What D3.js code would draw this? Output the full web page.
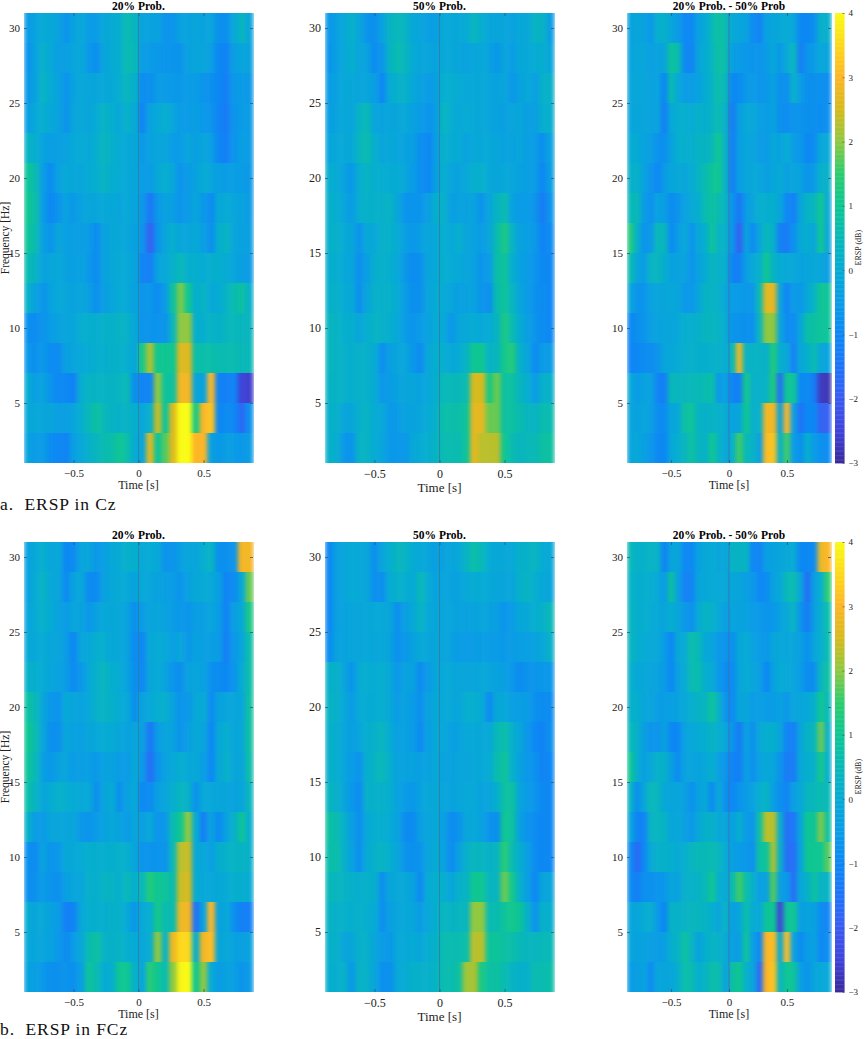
<!DOCTYPE html>
<html>
<head>
<meta charset="utf-8">
<script src="https://cdn.jsdelivr.net/npm/d3@7"></script>
<style>
  body { margin: 0; background: #fff; }
  text { font-family: "Liberation Serif", serif; fill: #222; }
  .domain { display: none; }
</style>
</head>
<body>
<script>
// one row per 2 Hz band, top row is 29-31 Hz, bottom row is 1-3 Hz
let freqLow = [29, 27, 25, 23, 21, 19, 17, 15, 13, 11, 9, 7, 5, 3, 1]
let timeStart = -0.88
let timeStep = 0.0587

let cz20 = [
  [-.5,-.3,0,-.1,-.3,-.7,-.3,-.1,-.5,-.5,-.1,0,.1,.6,.4,-.3,-.3,-.3,-.7,-.7,-.3,-.3,-.2,-.3,-.2,-.8,-.8,-.1,.4,-.2],
  [-.7,-.3,.2,-.1,-.4,-.4,-.2,-.1,-.6,-.8,-.2,0,.1,.6,.5,-.5,-.5,-.6,-.7,-.7,-.7,-.3,-.2,-.2,-.4,-1,-1.1,-.4,-.2,-.3],
  [-.6,-.3,.3,0,-.3,-.7,-.3,-.1,-.2,-.2,-.1,-.1,.1,.4,.2,-.9,-.8,-.5,-.5,-.6,-.6,-.5,-.5,-.7,-.8,-1,-1.2,-.6,-.5,-.6],
  [-.4,-.1,.1,-.1,-.3,-.7,-.2,-.1,-.2,0,.3,.1,-.1,.2,0,-1.1,-.3,-.1,.1,-.2,-.5,-.5,-.4,-.6,-.7,-1.1,-1.3,-.7,-.5,-.5],
  [.3,.1,-.3,-.4,-.4,-.3,-.1,0,-.1,.1,.4,.2,0,-.1,-.1,-.6,-.3,-.2,-.2,-.5,-.5,-.2,-.4,-.2,-.4,-1,-1.2,-.7,-.4,-.5],
  [.9,.6,-.5,-.9,-.3,-.1,-.1,-.2,0,.1,.3,.1,0,-.1,-.2,-.5,-.5,-.1,.1,-.2,-.7,-.5,-.3,0,-.2,-.4,-.5,-.4,-.5,-.6],
  [1,.7,-.5,-1,-.7,-.3,-.6,-.3,-.2,-.2,-.1,-.1,-.2,-.1,-.2,-.6,-1.4,-.6,-.3,-.4,-.7,-.5,-.2,-.6,-.9,-.1,0,-.2,-.3,-.5],
  [.9,.6,-.4,-.7,-.2,-.4,-.4,-.4,-.5,-.9,-.3,-.1,-.1,-.2,-.3,-.7,-1.9,-.7,-.2,.1,-.2,-.2,-.1,-.4,-.8,.1,.3,-.2,-.3,-.4],
  [.6,.3,-.3,-.2,-.1,-.3,-.4,-.3,-.6,-.9,-.3,-.1,0,-.1,-.2,-1.1,-1.2,-.3,-.1,.2,.5,.1,.1,0,.1,.1,0,-.2,-.4,-.5],
  [.2,-.3,-.7,-.3,-.1,-.2,-.3,-.2,-.4,-.8,-.4,-.2,0,-.1,-.3,-.7,-.6,-.9,-.5,.8,1.9,1,.1,.3,-.1,0,.3,.6,.8,.2],
  [-.8,-.9,-.7,-.5,-.3,-.2,-.2,.1,.1,.1,.2,.2,.3,.2,-.1,-.7,-.7,-.7,-.7,.4,2,2,.1,.1,.3,.2,.4,.5,.4,.4],
  [-.6,-.8,-.6,-.9,-.9,-.4,-.2,-.1,0,.1,.1,.2,.2,.1,-.2,1.2,2.2,1,1,1,2.6,2.6,.7,.7,.7,.6,.6,.6,.5,.5],
  [0,-.4,-.3,-.7,-1,-1,-1.1,.1,.3,.3,.3,.3,.4,.5,-.8,-1.1,-1.1,2,.9,.8,2.9,2.9,-.2,-.3,3,-1.1,-1.2,-1.1,-2.5,-2.6],
  [-.1,-.1,-.2,-.2,-.4,-.4,-.2,.1,.5,.8,.5,.3,.2,.3,.1,-.2,.2,2.4,.9,2.6,4,4,1.2,3,3.2,-1,-.9,-1,-1.7,-.8],
  [-.3,-.5,-.5,-.9,-1,-1.1,-.4,-.1,.2,.4,.6,.7,1,.7,0,-.2,2.6,.9,1.7,2.6,4,4,3,3,-.3,-.6,-.4,-.5,-.6,-.5]
]

let cz50 = [
  [-.6,-.4,-.1,.2,-.2,-.7,-.8,-.3,.3,.5,.3,-.1,-.2,-.4,-.4,-.1,-.1,-.1,0,.4,.1,-.2,-.2,-.2,-.3,-.1,-.1,.3,.3,-.5],
  [-.7,-.4,-.1,.1,-.2,-.3,-.9,-.6,.3,.6,.4,0,-.2,-.2,-.3,-.1,-.1,-.2,-.3,-.2,-.1,-.3,-.6,-.2,-.5,-.1,-.1,0,.1,-.2],
  [-.5,-.3,-.1,-.1,-.2,-.2,-.4,-1,0,.2,.2,-.1,-.3,-.5,-.4,.1,.1,0,-.1,-.1,-.1,-.2,-.3,-.2,-.6,-.3,-.1,-.4,.2,.2],
  [-.4,-.3,-.1,-.2,.3,.5,-.2,-.3,-.2,-.2,-.1,-.3,-.5,-.7,-.5,.4,.1,-.1,0,-.1,-.1,-.2,-.3,-.4,-.2,-.2,-.4,-.4,.1,.1],
  [-.2,-.1,-.1,-.1,.4,.6,.1,-.2,-.1,-.2,-.3,-.4,-.8,-1,-.5,.2,0,0,-.3,-.1,-.1,-.1,-.2,-.3,-.3,-.2,-.4,-.5,-.8,-.3],
  [.1,0,-.3,-.6,.1,.3,.1,.1,0,0,-.2,-.5,-.8,-1,-.4,.1,-.2,-.3,-.1,.1,.2,-.1,-.2,-.1,-.2,-.3,-.4,-.5,-1,-.4],
  [.2,.1,-.2,-.5,.1,.2,.2,.2,.3,-.2,-.7,-.7,-.7,-.4,.1,.2,-.4,-.3,-.3,-.3,-.7,-.2,.3,.6,-.3,-.5,-.5,-.7,-1.3,-.7],
  [.2,.2,0,-.2,-.7,-.1,-.1,.2,.2,0,-.4,-.6,-.4,-.2,-.1,.1,-.1,.1,-.2,-.3,-.5,-.2,.6,1.2,.3,-.3,-.4,-.6,-1.1,-.9],
  [.1,.1,-.1,-.2,-.8,-.4,.1,.2,.1,-.1,-.6,-.9,-.8,-.2,-.1,.1,0,-.1,-.2,-.3,-.7,-.5,.7,.9,.1,-.3,-.5,-.7,-1,-1],
  [.2,.2,0,-.1,-.8,-.2,.2,.2,.2,0,-.5,-.8,-.8,-.2,0,0,-.2,-.4,-.3,-.3,-.7,-.8,.6,.9,.4,-.2,-.5,-.8,-.9,-1],
  [.4,.3,.1,.1,-.2,.1,.3,.2,.1,-.1,-.5,-.7,-.5,-.3,0,-.1,-.6,-.2,-.1,0,-.1,0,.3,1.2,.6,0,-.4,-.7,-.9,-1],
  [.4,.3,.2,.1,.2,.2,0,-.8,-.4,-.2,-.2,-.6,-.9,-.1,.1,.1,-.1,0,.3,1,1,.3,.4,1.1,1.3,.2,-.2,-.9,-.5,-.5],
  [.3,.3,.2,.1,.2,.2,0,-.6,-.5,-.3,-.2,-.2,-.3,-.1,.1,.5,.5,.5,.6,2.5,2.5,1.2,1.8,.8,.8,.4,.1,-.5,.2,.2],
  [.2,.2,-.2,-.2,.2,.3,0,-.1,-.6,-.5,-.3,-.3,-.2,0,.2,.7,.7,.7,.9,2.7,2.7,1.8,1.8,.8,.8,.6,.4,.3,.6,.6],
  [.2,.1,-.6,-.7,.3,.3,0,-.2,-.6,-.6,-.6,-.1,0,.1,.3,.6,.6,.6,.9,2.7,2.3,2.3,2.3,1,.6,.4,.5,.5,.8,.8]
]

let czDiff = [
  [-.3,-.2,-.3,-.6,.1,.2,-.2,-.5,-1,-1,-.3,-.1,.5,.8,.6,-.1,-.2,-.3,-.9,-1.1,-.3,-.2,-.1,0,-.2,-1,-1,-.8,.2,.1],
  [-.3,-.1,-.2,-.4,-.3,-.2,.9,.6,-1,-1.1,-.2,0,.4,.8,.6,-.4,-.5,-.6,-.7,-.7,-.5,-.1,-.6,0,.4,-1.2,-.7,-.5,-.1,-.3],
  [-.2,-.1,-.2,-.3,-.3,-1,.6,-.1,-.5,-.5,-.3,0,.3,.7,.4,-1,-.9,-.6,-.5,-.7,-.6,-.3,-.8,-.8,.2,-.5,-.8,-.8,-.8,-.9],
  [-.2,-.2,-.2,-.3,-.3,-1.2,-.1,.1,.1,0,.2,.1,.3,.6,.2,-1.3,-.4,-.1,-.1,-.4,-.5,-.3,-.8,-.9,-.7,-.7,-.8,-.8,-.9,-.8],
  [0,0,-.3,-.4,-.8,-.8,-.3,.1,.1,.1,.3,.3,.5,1,.2,-1.2,-.4,-.2,-.2,-.5,-.5,-.1,-.3,0,-.5,-.6,-1,-.9,-.1,-.1],
  [.2,.2,-.3,-.7,-1,-.5,-.2,-.1,-.2,0,.3,.6,.9,1,.2,-1.2,-.4,-.2,-.1,-.2,-.4,-.2,0,-.4,-.2,-.3,-.7,-.5,.2,.2],
  [.5,.5,-.5,-.8,-.3,-.4,-.9,-.7,-.3,-.1,.1,.6,.8,.6,.3,-.7,-1.4,-.5,-.2,.1,.1,.1,-.2,-1,-1.2,-.2,.3,.4,1,-.1],
  [1.3,.2,-.7,-.6,.5,.4,-.9,-.5,-.1,-.7,-.1,.1,.9,.3,.2,-.7,-1.9,-.3,-.9,-.2,.5,.2,-1.2,-1.3,-.8,-.1,.1,-.2,1,-.2],
  [.6,-.2,-.5,.3,.4,.1,-.3,-.3,-.3,-.7,-.3,0,.4,.2,.1,-1.1,-1.2,-.4,-.1,.2,1,.3,0,-.1,-.1,-.3,-.2,-.1,-.2,-.4],
  [-.2,-.7,-.7,-.3,-.2,-.2,-.1,-.2,-.6,-.6,-.2,.3,.3,.2,-.2,-.5,-.5,-.6,-.6,.6,2.7,2.7,-.2,-1.1,-.5,-.6,-.1,.3,1,.9],
  [-1,-.8,-.7,-.4,-.3,-.2,-.2,-.1,.1,.1,.2,.4,.4,.3,0,-.7,-.7,-.8,-.8,.4,2,2,-.2,-.9,-.9,-.2,.7,.8,.9,.9],
  [-1.1,-1,-.9,-.9,-.7,-.2,-.1,0,.1,.2,.1,.1,.2,.2,0,.5,2.8,.3,.3,.3,.2,1.3,.1,-.1,-1.2,-.1,.1,.6,-.2,-.3],
  [-.1,-.5,-.3,-.3,-1.1,-1.2,.5,.4,.4,.5,.5,.6,.7,-.6,-.3,-1.1,-1.2,1.1,.2,.2,.3,1.3,-1.6,1,.9,-1,-.9,-1.3,-2.7,-2.8],
  [-.2,-.3,-.2,-.4,-.9,-.9,-.2,-.1,.8,.9,.3,.2,.3,.2,0,-.3,-.2,1,.2,.2,2.9,2.9,-.3,3,-.4,-1.5,-1,-1,-1.9,-1.9],
  [-.2,-.1,-.4,-.6,-1,-1,-.1,.1,.4,.8,.4,.2,1,.3,-.2,.2,1.6,.5,.3,-.4,3.1,3.2,.2,1.6,-.5,-.8,.1,-.5,-.8,-.9]
]

let fcz20 = [
  [-.3,-.1,.1,-.2,-.1,-1,-.9,-.2,-.2,-.6,-.4,-.1,0,.2,.1,-.1,0,-.1,-.7,-.7,-.4,-.2,-.2,.1,.3,-.8,-.8,-.7,2.9,2.9],
  [-.3,0,.3,-.1,-.2,-.9,-.3,-.1,-.9,-.9,-.3,-.1,0,-.1,-.3,-.1,-.2,-.3,-.4,-.5,-.7,-.3,-.1,0,-.1,-.4,-1.1,-.9,-.1,1.8],
  [-.2,0,.2,0,-.3,-.5,-.2,-.3,-.6,-.3,-.1,-.1,-.1,-.3,-.8,-.5,-.2,-.2,-.3,-.5,-.6,-.7,-.4,-.4,-.2,-.5,-1.1,-.4,-.1,1.2],
  [-.1,-.1,0,-.2,-.2,-.5,-1,-.2,-.1,.1,.1,-.1,-.1,-.3,-.9,-1,-.1,0,-.1,-.4,-.2,-.6,-.3,-.4,-.4,-.5,-1.2,-.6,-.2,.7],
  [.2,.1,0,-.2,-.3,-.5,-.9,-.6,-.1,.2,.4,.1,0,-.3,-.8,-1,-.2,0,-.3,-.7,-.8,-.3,-.2,-.3,-.8,-.9,-1,-.7,0,.7],
  [.8,.5,-.2,-.6,-.7,-.1,-.2,-.3,-.1,.2,.3,.2,0,-.1,-.8,-.3,-.1,.1,.1,-.3,-.7,-.6,-.1,0,-.9,-.3,-.2,-.2,-.2,.8],
  [1,.6,-.2,-.8,-.8,-.2,-.3,-.4,-.2,-.1,0,0,-.2,-.3,-.2,-.4,-1.4,-.5,-.2,-.3,-.7,-.4,-.1,-.2,-1,-.1,.1,-.2,-.1,.8],
  [.9,.5,-.4,-.6,-.3,-.2,-.5,-.4,-.4,-.6,-.3,-.3,-.5,-.5,-.1,-.6,-1.6,-.7,-.3,-.1,.1,-.1,-.1,-.4,-1,-.1,.2,-.2,-.2,.7],
  [.7,.3,-.2,0,.2,.1,0,-.1,-.1,-.8,-.2,0,-.8,-.3,-.1,-1,-.9,-.4,-.2,.1,.4,.2,-.7,-.1,-.1,-.2,-.2,-.3,-.2,.4],
  [.2,-.5,-.5,-.2,-.2,-.2,-.2,-.6,-.7,-.5,-.3,-.1,-.3,-.5,-.2,-.4,-.1,-.7,-.6,.6,1,2,0,-1.2,-.3,-.9,-.3,.2,.9,.1],
  [-.8,-.9,-.3,-.7,-.6,-.1,-.1,0,.1,.1,.1,.1,.2,.1,-.2,-.7,-.7,-.7,-.7,.5,2.3,2.4,-.1,-.1,-.4,.1,.2,.3,.3,.2],
  [-.8,-.8,-.5,-.7,-.8,-.4,-.2,-.2,.2,.1,.3,.3,.1,.5,.1,.5,1.3,1,.9,.6,2.4,2.5,0,-.1,-.1,-.1,0,.1,.1,0],
  [0,-.2,-.1,-.3,-.5,-1.2,-1.1,-.1,.1,.1,.1,.2,.2,-.1,-.6,-.1,.1,1.1,.6,.6,2.8,2.9,-1.5,-.3,3,-.3,-.1,-.8,-1.2,-1.2],
  [-.1,-.2,-.2,-.3,-.6,-.9,-.5,-.1,.6,.8,.3,.2,.3,.1,0,-.2,.1,2,.3,2.8,3.5,3.5,.1,2.9,3.1,-.2,-.1,-.3,-.4,-.3],
  [-.3,-.4,-.6,-.8,-.8,-.7,-.8,-.4,.9,.6,0,.1,1,1,.2,-.2,1.4,1,.6,2,3.9,4,1,2,0,-.5,-.3,-.4,-.7,-.5]
]

let fcz50 = [
  [-1,-.4,-.2,0,-.1,-.2,-.8,-.2,.1,.4,.3,0,-.1,-.2,-.4,-.3,-.2,-.1,.3,.7,.5,0,-.1,-.1,-.1,.2,.2,.4,0,-.1],
  [-1,-.4,-.2,0,-.1,-.2,-.8,-.8,0,.2,.1,-.1,.5,0,-.3,-.2,-.3,-.3,-.1,0,0,-.1,-.2,-.2,-.2,.2,.3,.1,-.1,-.2],
  [-1,-.4,-.3,-.2,-.2,-.1,-.1,-.1,-.2,-.8,-.4,-.1,.3,-.1,-.2,-.2,-.2,-.3,-.3,-.3,-.2,-.3,-.4,-.7,-.5,-.1,-.1,.1,.2,.5],
  [-.9,-.3,-.3,-.2,-.2,-.1,-.2,-.1,-.3,-.8,-.6,-.3,-.1,-.2,-.2,-.2,-.3,-.5,-.5,-.5,-.4,-.5,-.5,-.6,-.5,-.4,-.4,-.3,-.1,.2],
  [.2,.2,-.2,-.7,0,.1,0,.1,-.1,-.6,-.3,-.3,-.9,-.5,-.2,-.1,-.1,-.2,-.2,-.2,-.1,-.2,-.3,-.4,-.6,-.9,-.7,-.7,-.6,-.6],
  [.3,.2,-.1,-.5,0,0,0,.1,-.1,-.5,-.3,-.5,-.8,-.3,-.1,-.1,-.1,-.2,.1,.1,0,-.9,-.1,-.1,-.4,-.4,-.5,-.8,-.9,-.9],
  [.2,.1,-.2,-.4,-.2,.1,.2,.4,0,-.4,-.3,-.5,-.9,-.4,-.1,-.1,-.4,-.3,-.1,-.1,-.1,-.1,.5,.7,.2,-.2,-.6,-1,-1.1,-.8],
  [.2,.1,-.2,-.5,-.7,.1,.3,.5,.1,-.3,-.3,-.3,-.4,-.3,-.1,-.3,-.3,-.2,-.2,-.1,-.1,0,.6,.9,.2,-.3,-.6,-.8,-1.1,-1],
  [.4,.2,-.2,-.6,-.9,.2,.2,.2,.1,-.3,-.5,-.6,-.3,-.1,-.1,-.2,-.3,-.2,-.1,-.1,-.3,-.2,.1,.8,.8,-.2,-.5,-.7,-1,-1],
  [.8,.6,.2,-.4,-.8,-.1,.1,.1,0,-.3,-.9,-.9,-.4,-.2,-.1,-.4,-.9,-.7,-.2,-.1,-.3,-.7,-.8,1,.8,-.3,-.7,-.9,-1,-1],
  [.7,.7,.2,-.3,-.8,0,.2,.3,.1,-.2,-.7,-.8,-.7,-.2,0,-.3,-.9,-.4,.2,.4,.4,.2,.4,1.4,.6,.1,-.4,-.9,-1,-1],
  [.5,.4,.3,.2,.1,.2,.1,-.8,-.2,-.1,-.1,-.3,-.9,0,.1,.1,-.2,.2,.3,1,1,.4,.4,1.8,1.1,.2,-.4,-1,-.2,-.2],
  [.3,.2,.2,.1,.2,.1,0,-.8,-.4,-.2,-.1,-.2,-.5,-.1,.1,.4,.3,.4,.4,2,2,.6,.6,.9,1.1,.9,.2,-.7,.2,.1],
  [.2,.2,-.2,-.2,.2,.2,-.2,-.5,-.6,-.1,-.1,0,-.2,.1,.2,.6,.6,.6,.7,2.3,2.3,.9,.9,.8,.7,.5,.4,.4,.5,.5],
  [.1,.1,.2,-.6,.3,.2,-.2,-.8,-.8,-.1,0,.2,.2,.2,.3,.6,.6,.8,2.1,2.2,1.2,.8,.8,.6,.3,.2,.2,.6,.6,.7]
]

let fczDiff = [
  [.5,.2,.2,.3,.2,-1.1,-.2,-.2,-1,-1,-.3,-.1,0,-.2,-.2,.3,.3,.3,-1,-1.1,-.4,-.3,-.2,-.1,0,-1,-1,-.9,2.8,3],
  [.3,.1,.1,.1,-.1,-.5,.8,-.3,-1.2,-1.1,-.2,-.1,0,-.1,-.1,-.2,-.2,-.4,-.6,-1,-.9,-.3,-.1,.5,.6,-.2,-1.6,-.4,.1,1.5],
  [.4,.1,.1,0,-.1,-.2,.1,-.2,-.6,-.8,0,.3,.2,-.1,-.4,-.2,-.3,-.3,-.5,-.6,-.7,-.6,-.3,-.1,.3,-.7,-1.3,-.4,.1,.7],
  [.4,.1,0,-.1,-.1,-.5,-1,-.1,0,.7,.5,-.1,-.2,-.6,-.7,-.8,-.1,0,-.3,-.5,-.6,-.2,-.1,-.2,-.2,-.4,-.8,-.2,.1,.6],
  [.2,-.1,-.1,-.2,-.3,-.5,-1,-.3,0,.6,.6,.1,0,-.6,-.9,-.9,-.2,0,-.2,-.4,-1,-.3,0,-.1,-.2,-.5,-.9,-.8,.4,.8],
  [.2,.1,-.2,-.2,-.5,-.4,-.4,-.3,-.1,.1,.3,.4,.9,.2,-.7,-.9,-.2,-.2,-.5,-.4,-.5,-.5,-.3,-.6,-.2,-.2,-.1,.1,1,.5],
  [.5,.2,-.4,-.7,-.7,-.3,-1,-1,-.3,-.1,0,.1,.3,.1,-.2,-.7,-1.3,-.3,-.8,-.1,.1,.1,-.2,-1.1,-1.2,-.2,.3,.4,1.8,.2],
  [1,.1,-.4,-.1,.2,.2,-.4,-.9,-.3,-.2,-.3,-.1,.1,-.4,-.7,-1.1,-1.2,-.4,-.8,-.3,-.1,-.2,-.7,-1.3,-1.3,-.1,.1,.2,1.1,.1],
  [.3,-.8,-.2,.5,.4,-.1,-.2,-.2,-.4,-.8,-.3,-.1,-.9,-.1,-.8,-1,-.7,-.5,-.3,.1,.3,-.4,-.8,-1.1,-.4,-.1,.4,.5,.6,.5],
  [-.2,-1.1,-1.1,.3,.4,.3,-.2,-.1,-.4,-.6,-.1,.2,.2,-.1,-.2,-.4,.1,-.5,-.7,.8,2.3,2.3,.1,-1.6,-1.4,-.2,1,.9,1.9,.8],
  [-.9,-1.7,-1,-.1,.2,.2,.1,0,.1,.4,.5,.5,.6,.4,0,-.4,-.5,-.6,-.8,.8,.9,2.2,.2,-1.6,-1.6,-.3,1,1,1,1.7],
  [-.9,-1.2,-.8,-.8,-.7,-.6,-.2,-.3,.2,.2,.3,.5,1,.1,-.1,.6,1.6,.7,.2,-.4,-.3,1.7,-.4,-.6,-1.6,-.1,.2,.8,.3,.3],
  [-.2,-.2,0,.1,-.6,-1,.3,.2,.3,.4,.4,.3,.1,-.2,.3,-.4,-.2,.7,0,-.1,.9,1,-2.5,.9,1,-.4,-.3,-.3,-.9,-1.1],
  [-.2,-.3,-.3,-.4,-.5,-.4,.1,.3,.8,.4,-.3,.1,.3,.2,0,-.4,-.4,.9,-.4,-1,3,3.1,-.1,3.1,-.3,-.9,-.5,-.3,-1,-.9],
  [-.5,-.4,-.3,-.9,-.2,-.2,-.2,.1,.7,.6,.1,.3,.7,.6,-.3,.8,1,.2,-.2,-1.7,3,3.2,.3,1,.9,-.4,-.7,-.2,-.1,-.1]
]

let titles = ['20% Prob.', '50% Prob.', '20% Prob. - 50% Prob']
let timeTicks = [-0.5, 0, 0.5]
let freqTicks = [5, 10, 15, 20, 25, 30]
let barTicks = [-3, -2, -1, 0, 1, 2, 3, 4]

// colormap
let colorValues = [-3, -2.5, -2, -1.5, -1, -0.5, 0, 0.5, 1, 1.5, 2, 2.5, 3, 3.5, 4]
let colorHex = ['#3a2a9c', '#4044da', '#3a5cf2', '#1f74f8', '#0c88f4', '#0a9ce6', '#06abd4', '#08b8b8', '#0ec692', '#2ccc6e', '#90c840', '#d6ba1e', '#fcb626', '#fdd81c', '#f9fb15']

let color = d3.scaleLinear().domain(colorValues).range(colorHex).clamp(true)

let svg = d3.select('body').append('svg')
  .attr('width', 865)
  .attr('height', 1039)
  .style('display', 'block')

let filter = svg.append('defs').append('filter')
  .attr('id', 'soft')
  .attr('x', 0).attr('y', 0).attr('width', 1).attr('height', 1)
  .attr('color-interpolation-filters', 'sRGB')
filter.append('feGaussianBlur').attr('stdDeviation', '2 0.3')

let columns = [{ left: 24, width: 229 }, { left: 325, width: 229 }, { left: 627, width: 204 }]
let rows = [
  { top: 13, bottom: 463, caption: 'a.  ERSP in Cz', captionY: 510, panels: [cz20, cz50, czDiff] },
  { top: 542, bottom: 992, caption: 'b.  ERSP in FCz', captionY: 1034.5, panels: [fcz20, fcz50, fczDiff] }
]

function drawPanel(rowInfo, col, values, index) {
  let g = svg.append('g').attr('transform', 'translate(' + col.left + ',' + rowInfo.top + ')')
  let h = rowInfo.bottom - rowInfo.top

  let x = d3.scaleLinear().domain([-0.88, 0.88]).range([0, col.width])
  let y = d3.scaleLinear().domain([1, 31]).range([h, 0])

  let cells = g.append('g').attr('filter', 'url(#soft)')
  values.forEach(function(row, r) {
    cells.selectAll(null)
      .data(row)
      .join('rect')
      .attr('x', (d, i) => x(timeStart + i * timeStep))
      .attr('y', y(freqLow[r] + 2))
      .attr('width', x(timeStep) - x(0) + 0.4)
      .attr('height', y(freqLow[r]) - y(freqLow[r] + 2))
      .attr('fill', d => color(d))
  })

  // stimulus onset
  g.append('line')
    .attr('x1', x(0)).attr('x2', x(0))
    .attr('y1', 0).attr('y2', h)
    .style('stroke', index == 2 ? '#3f6fb4' : '#2f7f95')
    .style('stroke-width', 1)
    .style('stroke-opacity', 0.8)

  let fontSize = index == 1 ? 12 : 11

  let bottom = g.append('g')
    .attr('transform', 'translate(0,' + h + ')')
    .call(d3.axisBottom(x).tickValues(timeTicks).tickSize(-3).tickPadding(6).tickFormat(d3.format('')))
  let left = g.append('g')
    .call(d3.axisLeft(y).tickValues(freqTicks).tickSize(-3).tickPadding(4).tickFormat(d3.format('')))
  g.append('g')
    .call(d3.axisTop(x).tickValues(timeTicks).tickSize(-3).tickFormat(''))
  g.append('g')
    .attr('transform', 'translate(' + col.width + ',0)')
    .call(d3.axisRight(y).tickValues(freqTicks).tickSize(-3).tickFormat(''))

  g.selectAll('.tick line').style('stroke', '#2c5a78').style('stroke-width', 0.8)
  bottom.selectAll('text').style('font-family', '"Liberation Serif"').style('font-size', fontSize + 'px').style('fill', '#222')
  left.selectAll('text').style('font-family', '"Liberation Serif"').style('font-size', fontSize + 'px').style('fill', '#222')

  g.append('text')
    .attr('x', col.width / 2)
    .attr('y', -3)
    .attr('text-anchor', 'middle')
    .style('font-size', '11.5px')
    .style('font-weight', 'bold')
    .style('fill', '#000')
    .text(titles[index])

  g.append('text')
    .attr('x', x(0))
    .attr('y', h + (index == 1 ? 29 : 26))
    .attr('text-anchor', 'middle')
    .style('font-size', index == 1 ? '13px' : '12px')
    .text('Time [s]')

  if (index == 0) {
    g.append('text')
      .attr('transform', 'translate(-15,' + y(16) + ') rotate(-90)')
      .attr('text-anchor', 'middle')
      .style('font-size', '11.5px')
      .text('Frequency [Hz]')
  }
}

function drawColorbar(rowInfo) {
  let h = rowInfo.bottom - rowInfo.top
  let g = svg.append('g').attr('transform', 'translate(835,' + rowInfo.top + ')')
  let y = d3.scaleLinear().domain([-3, 4]).range([h, 0])

  g.selectAll(null)
    .data(d3.range(-3, 4, 0.02))
    .join('rect')
    .attr('x', 0)
    .attr('y', d => y(d + 0.02))
    .attr('width', 9.5)
    .attr('height', y(0) - y(0.02) + 0.4)
    .attr('fill', d => color(d))

  let axis = g.append('g')
    .attr('transform', 'translate(9.5,0)')
    .call(d3.axisRight(y).tickValues(barTicks).tickSize(-2).tickPadding(4).tickFormat(d3.format('')))
  axis.selectAll('.tick line').style('stroke', '#555').style('stroke-width', 0.7)
  axis.selectAll('text').style('font-family', '"Liberation Serif"').style('font-size', '9px').style('fill', '#222')

  g.append('text')
    .attr('transform', 'translate(26,' + y(0.35) + ') rotate(-90)')
    .attr('text-anchor', 'middle')
    .style('font-size', '8px')
    .text('ERSP (dB)')
}

rows.forEach(function(rowInfo) {
  columns.forEach(function(col, i) {
    drawPanel(rowInfo, col, rowInfo.panels[i], i)
  })
  drawColorbar(rowInfo)

  svg.append('text')
    .attr('x', 0)
    .attr('y', rowInfo.captionY)
    .style('font-size', '17.5px')
    .style('letter-spacing', '0.9px')
    .style('white-space', 'pre')
    .style('fill', '#111')
    .text(rowInfo.caption)
})
</script>
</body>
</html>
